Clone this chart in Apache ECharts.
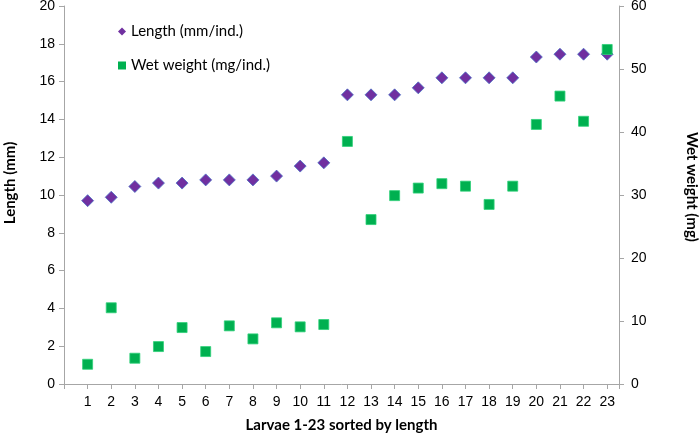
<!DOCTYPE html>
<html><head><meta charset="utf-8">
<script src="https://cdn.jsdelivr.net/npm/echarts@6/dist/echarts.min.js"></script>
<style>html,body{margin:0;padding:0;background:#fff}#c{width:700px;height:434px}</style>
</head><body><div id="c"></div>
<script>
var larvae = [1,2,3,4,5,6,7,8,9,10,11,12,13,14,15,16,17,18,19,20,21,22,23];
var lengthMM = [9.7,9.88,10.45,10.63,10.63,10.8,10.8,10.8,11.0,11.53,11.7,15.3,15.3,15.3,15.67,16.2,16.2,16.2,16.2,17.3,17.45,17.45,17.45];
var wetWeightMG = [3.13,12.1,4.09,5.94,8.96,5.15,9.23,7.16,9.71,9.07,9.44,38.5,26.1,29.9,31.1,31.8,31.4,28.5,31.4,41.2,45.7,41.7,53.1];
var leftTicks = [0,2,4,6,8,10,12,14,16,18,20];
var rightTicks = [0,10,20,30,40,50,60];

var chart = echarts.init(document.getElementById('c'));
var axisCol = '#a6a6a6';
var labelFont = {color:'#000', fontSize:14, fontFamily:'Liberation Sans'};
var titleFont = {fontSize:15, fontWeight:'bold', fontFamily:'Lato', color:'#000'};
chart.setOption({
  animation:false,
  grid:{left:64, right:81, top:6, bottom:50, containLabel:false, outerBoundsMode:'none'},
  legend:{
    orient:'vertical', left:113, top:19, itemGap:19, itemWidth:8, itemHeight:8,
    textStyle:{fontSize:15, fontFamily:'Lato', color:'#000'},
    data:[{name:'Length (mm/ind.)', icon:'diamond', itemStyle:{borderWidth:0}},
          {name:'Wet weight (mg/ind.)', icon:'rect', itemStyle:{borderWidth:0}}]
  },
  xAxis:{
    type:'value', min:0, max:23.5, interval:1,
    name:'Larvae 1-23 sorted by length', nameLocation:'middle', nameGap:34,
    nameTextStyle:titleFont,
    axisLine:{lineStyle:{color:axisCol}}, axisTick:{length:5, lineStyle:{color:axisCol}},
    splitLine:{show:false},
    axisLabel:Object.assign({margin:11, formatter:function(v){return (v>=1 && v<=23 && v===Math.round(v))? String(v):'';}}, labelFont)
  },
  yAxis:[{
    type:'value', min:0, max:20, interval:2,
    name:'Length (mm)', nameLocation:'middle', nameGap:46, nameRotate:90,
    nameTextStyle:Object.assign({padding:[0,0,0,24]}, titleFont),
    axisLine:{show:true, lineStyle:{color:axisCol}}, axisTick:{show:true, length:5, lineStyle:{color:axisCol}},
    splitLine:{show:false},
    axisLabel:Object.assign({margin:9}, labelFont)
  },{
    type:'value', min:0, max:60, interval:10, position:'right',
    name:'Wet weight (mg)', nameLocation:'middle', nameGap:65, nameRotate:-90,
    nameTextStyle:Object.assign({padding:[0,16,0,0]}, titleFont),
    axisLine:{show:true, lineStyle:{color:axisCol}}, axisTick:{show:true, length:5, lineStyle:{color:axisCol}},
    splitLine:{show:false},
    axisLabel:Object.assign({margin:12}, labelFont)
  }],
  series:[{
    name:'Length (mm/ind.)', type:'scatter', yAxisIndex:0, symbol:'diamond', symbolSize:[12,12],
    itemStyle:{color:'#7030A0', borderColor:'#4a6fc4', borderWidth:0.8, opacity:1},
    data:larvae.map(function(x,i){return [x,lengthMM[i]];}), z:2
  },{
    name:'Wet weight (mg/ind.)', type:'scatter', yAxisIndex:1, symbol:'rect', symbolSize:[10,10],
    itemStyle:{color:'#00B050', borderColor:'#2fd07a', borderWidth:0.8, opacity:1},
    data:larvae.map(function(x,i){return [x,wetWeightMG[i]];}), z:3
  }]
});
</script></body></html>
